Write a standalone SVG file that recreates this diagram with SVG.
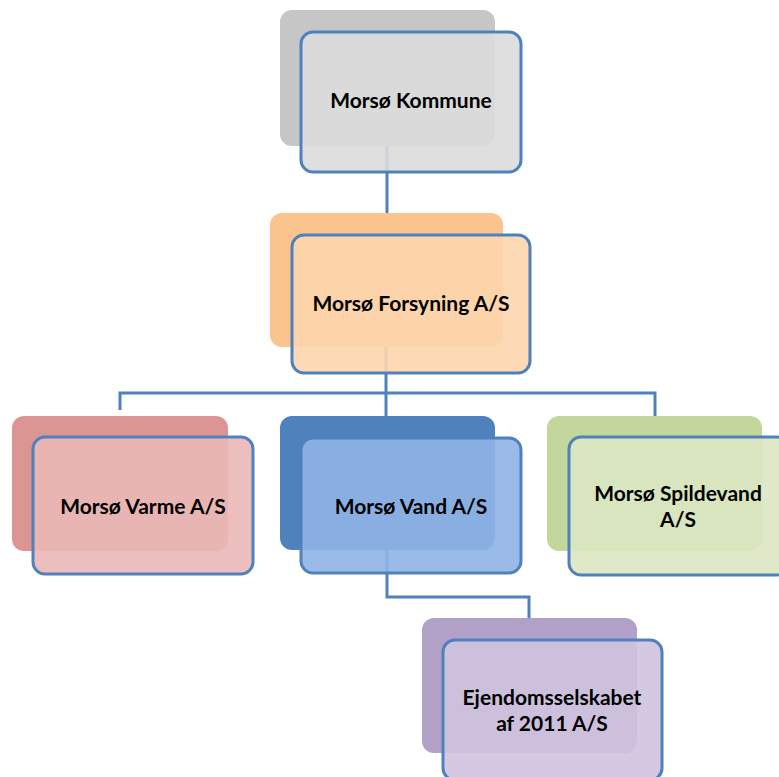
<svg xmlns="http://www.w3.org/2000/svg" width="779" height="777" viewBox="0 0 779 777">
<style>
.back{stroke:none}
.front{stroke:#4f81bd;stroke-width:3;fill-opacity:0.9}
.conn{fill:none;stroke:#4f81bd;stroke-width:3}
text{font-family:Lato,"Open Sans","Liberation Sans",sans-serif;font-weight:bold;font-size:21px;fill:#000;text-anchor:middle}
</style>
<rect width="779" height="777" fill="#ffffff"/>
<g id="connectors">
<path class="conn" d="M387,146 V213"/>
<path class="conn" d="M386,347 V393 M120,410 V393 H655 V416 M386,393 V416"/>
<path class="conn" d="M387,550 V597 H529 V618"/>
</g>
<g id="kommune">
<rect class="back" x="280" y="10" width="215" height="136" rx="12" fill="#c6c6c6"/>
<rect class="front" x="301" y="32" width="220" height="140" rx="12" fill="#dcdcdc"/>
<text x="411" y="108">Morsø Kommune</text>
</g>
<g id="forsyning">
<rect class="back" x="270" y="213" width="233" height="134" rx="12" fill="#fbc38d"/>
<rect class="front" x="292" y="235" width="238" height="138" rx="12" fill="#fdd5ad"/>
<text x="411" y="311">Morsø Forsyning A/S</text>
</g>
<g id="varme">
<rect class="back" x="12" y="416" width="216" height="135" rx="12" fill="#db9593"/>
<rect class="front" x="33" y="437" width="220" height="137" rx="12" fill="#eab8b7"/>
<text x="143" y="514">Morsø Varme A/S</text>
</g>
<g id="vand">
<rect class="back" x="280" y="416" width="215" height="134" rx="12" fill="#4f81bd"/>
<rect class="front" x="301" y="438" width="220" height="135" rx="12" fill="#8fb4e5"/>
<text x="411" y="514">Morsø Vand A/S</text>
</g>
<g id="spildevand">
<rect class="back" x="547" y="416" width="215" height="135" rx="12" fill="#c3d69b"/>
<rect class="front" x="569" y="437" width="220" height="138" rx="12" fill="#dbe7c2"/>
<text x="678" y="501">Morsø Spildevand</text>
<text x="678" y="527">A/S</text>
</g>
<g id="ejendom">
<rect class="back" x="422" y="618" width="215" height="135" rx="12" fill="#b1a0c7"/>
<rect class="front" x="443" y="640" width="219" height="140" rx="12" fill="#cfc3de"/>
<text x="552" y="705">Ejendomsselskabet</text>
<text x="552" y="731">af 2011 A/S</text>
</g>
</svg>
